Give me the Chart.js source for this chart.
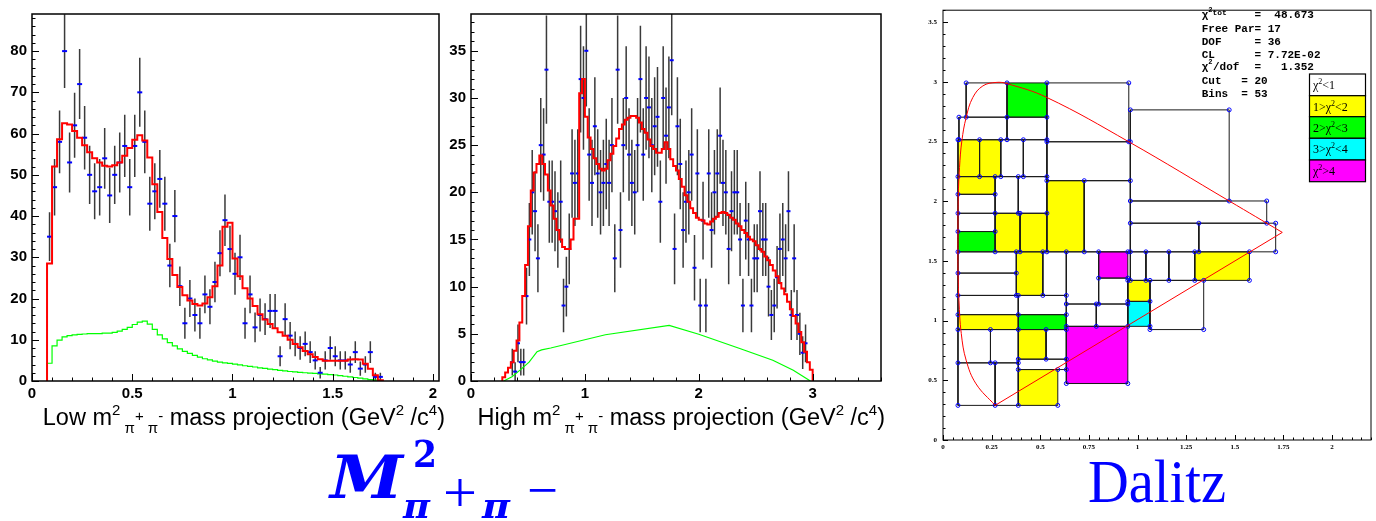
<!DOCTYPE html>
<html>
<head>
<meta charset="utf-8">
<title>pi+ pi- mass projections and Dalitz plot</title>
<script src="https://cdn.jsdelivr.net/npm/chart.js@4.4.1/dist/chart.umd.min.js"></script>
<style>
  html, body { margin: 0; background: #fff; width: 1376px; height: 521px; overflow: hidden; }
  .panel { position: absolute; top: 0; }
  #overlay { position: absolute; left: 0; top: 0; pointer-events: none; }
</style>
</head>
<body>
<div class="panel" style="left:0;width:445px;height:400px"><canvas id="low" width="445" height="400"></canvas></div>
<div class="panel" style="left:440px;width:447px;height:400px"><canvas id="high" width="447" height="400"></canvas></div>
<div class="panel" style="left:900px;width:476px;height:460px"><canvas id="dalitz" width="476" height="460"></canvas></div>

<svg id="overlay" width="1376" height="521" xmlns="http://www.w3.org/2000/svg">
  <g font-family="Liberation Sans, Arial, sans-serif" font-size="23.5" fill="#000">
    <text x="445" y="425" text-anchor="end">Low m<tspan font-size="15" dy="-10">2</tspan><tspan font-size="15" dy="18"> π</tspan><tspan font-size="15" dy="-12">+</tspan><tspan font-size="15" dy="12"> π</tspan><tspan font-size="15" dy="-12">-</tspan><tspan dy="4"> mass projection (GeV</tspan><tspan font-size="15" dy="-10">2</tspan><tspan dy="10"> /c</tspan><tspan font-size="15" dy="-10">4</tspan><tspan dy="10">)</tspan></text>
    <text x="885" y="425" text-anchor="end">High m<tspan font-size="15" dy="-10">2</tspan><tspan font-size="15" dy="18"> π</tspan><tspan font-size="15" dy="-12">+</tspan><tspan font-size="15" dy="12"> π</tspan><tspan font-size="15" dy="-12">-</tspan><tspan dy="4"> mass projection (GeV</tspan><tspan font-size="15" dy="-10">2</tspan><tspan dy="10"> /c</tspan><tspan font-size="15" dy="-10">4</tspan><tspan dy="10">)</tspan></text>
  </g>

  <!-- big blue captions -->
  <g fill="#0000ff">
    <text x="330" y="498" font-family="DejaVu Serif, serif" font-weight="bold" font-style="italic" font-size="59" textLength="73" lengthAdjust="spacingAndGlyphs">M</text>
    <text x="413" y="467" font-family="DejaVu Serif, serif" font-weight="bold" font-size="37" textLength="24" lengthAdjust="spacingAndGlyphs">2</text>
    <text x="403" y="518" font-family="DejaVu Serif, serif" font-weight="bold" font-style="italic" font-size="36" textLength="27" lengthAdjust="spacingAndGlyphs">π</text>
    <text x="443" y="512" font-family="Liberation Serif, serif" font-size="58" textLength="34" lengthAdjust="spacingAndGlyphs">+</text>
    <text x="482" y="518" font-family="DejaVu Serif, serif" font-weight="bold" font-style="italic" font-size="36" textLength="28" lengthAdjust="spacingAndGlyphs">π</text>
    <text x="527" y="509" font-family="Liberation Serif, serif" font-size="56" textLength="31" lengthAdjust="spacingAndGlyphs">−</text>
    <text x="1088" y="502" font-family="Liberation Serif, serif" font-size="62" textLength="138" lengthAdjust="spacingAndGlyphs">Dalitz</text>
  </g>

  <!-- fit statistics -->
  <g font-family="Liberation Mono, Courier New, monospace" font-weight="bold" font-size="11" fill="#000" style="white-space:pre">
    <text x="1201.7" y="18.3">χ<tspan font-size="7" dy="-6">2</tspan><tspan font-size="8" dy="3">tot</tspan></text>
    <text x="1254.5" y="18.3">=</text><text x="1274.3" y="18.3">48.673</text>
    <text x="1201.7" y="31.6">Free Par=</text><text x="1267.7" y="31.6">17</text>
    <text x="1201.7" y="44.6">DOF</text><text x="1254.5" y="44.6">=</text><text x="1267.7" y="44.6">36</text>
    <text x="1201.7" y="57.6">CL</text><text x="1254.5" y="57.6">=</text><text x="1267.7" y="57.6">7.72E-02</text>
    <text x="1201.7" y="70.3">χ<tspan font-size="7" dy="-6">2</tspan><tspan x="1213" dy="6">/dof</tspan></text>
    <text x="1254.5" y="70.3">=</text><text x="1280.9" y="70.3">1.352</text>
    <text x="1201.7" y="83.6">Cut</text><text x="1241.3" y="83.6">=</text><text x="1254.5" y="83.6">20</text>
    <text x="1201.7" y="96.6">Bins</text><text x="1241.3" y="96.6">=</text><text x="1254.5" y="96.6">53</text>
  </g>

  <!-- chi2 colour key -->
  <g stroke="#000" stroke-width="1.2">
    <rect x="1309.5" y="74" width="56" height="21.7" fill="#ffffff"/>
    <rect x="1309.5" y="95.7" width="56" height="21" fill="#ffff00"/>
    <rect x="1309.5" y="116.7" width="56" height="21.6" fill="#00ff00"/>
    <rect x="1309.5" y="138.3" width="56" height="21.7" fill="#00ffff"/>
    <rect x="1309.5" y="160" width="56" height="21.7" fill="#ff00ff"/>
  </g>
  <g font-family="Liberation Serif, Times New Roman, serif" font-size="12" fill="#000">
    <text x="1313" y="89">χ<tspan font-size="8" dy="-5">2</tspan><tspan dy="5">&lt;1</tspan></text>
    <text x="1313" y="110.5">1&gt;χ<tspan font-size="8" dy="-5">2</tspan><tspan dy="5">&lt;2</tspan></text>
    <text x="1313" y="131.8">2&gt;χ<tspan font-size="8" dy="-5">2</tspan><tspan dy="5">&lt;3</tspan></text>
    <text x="1313" y="153.4">3&gt;χ<tspan font-size="8" dy="-5">2</tspan><tspan dy="5">&lt;4</tspan></text>
    <text x="1313" y="175">χ<tspan font-size="8" dy="-5">2</tspan><tspan dy="5">&gt;4</tspan></text>
  </g>
</svg>

<script>
"use strict";

// ── Data ───────────────────────────────────────────────────
const BIN = 0.025; // GeV^2/c^4 per bin in both projections

// Low m² projection, bins start at index 3 (0.075)
const lowStart = 3;
const lowCounts = [35, 47, 58, 80, 53, 62, 72, 59, 50, 46,
    47, 54, 45, 50, 53, 57, 47, 57, 70, 58,
    43, 46, 49, 43, 28, 40, 23, 14, 20, 16,
    14, 21, 18, 24, 31, 39, 32, 26, 30, 14,
    21, 13, 16, 15, 17, 17, 6, 15, 11, 9,
    8, 9, 7, 5, 2, 5, 8, 6, 5, 5,
    4, 7, 3, 4, 7, 1, 1];
const lowFit = [28.5, 52, 58.6, 62.5, 62.2, 60.6, 59, 57.2, 55.5, 54,
    53, 52.2, 52, 52.3, 53, 54.6, 56.5, 58.5, 59.6, 58.3,
    54.2, 47.7, 41, 34.7, 29.6, 25.7, 22.8, 20.8, 19.5, 18.7,
    18.3, 18.8, 20.3, 23, 28, 37.4, 38.4, 29.7, 25.4, 22.5,
    20, 18.2, 16.2, 14.9, 13.8, 12.8, 11.8, 11, 10, 9,
    8.2, 7.3, 6.5, 5.8, 5.3, 4.9, 4.9, 4.9, 4.9, 4.9,
    5.2, 5.3, 5.2, 4.2, 3, 1.4, 0.2];
const lowBg = [4.3, 8.5, 9.9, 10.7, 11.0, 11.2, 11.3, 11.4, 11.5, 11.5,
    11.5, 11.6, 11.6, 11.8, 12.1, 12.5, 13.0, 13.7, 14.3, 14.5,
    13.8, 12.5, 11.2, 10.2, 9.3, 8.5, 7.8, 7.2, 6.7, 6.2,
    5.8, 5.4, 5.1, 4.8, 4.6, 4.4, 4.25, 4.1, 3.9, 3.7,
    3.55, 3.4, 3.2, 3.05, 2.9, 2.75, 2.6, 2.45, 2.3, 2.2,
    2.1, 2.0, 1.9, 1.85, 1.75, 1.65, 1.55, 1.45, 1.3, 1.15,
    1.0, 0.85, 0.7, 0.5, 0.35, 0.2, 0.05];

// High m² projection
const highDataStart = 14;
const highCounts = [2, 1, 4, 2, 2, 9, 15, 20, 18, 13,
    25, 24, 33, 19, 19, 18, 16, 19, 8, 10,
    14, 22, 21, 22, 32, 30, 35, 24, 21, 27,
    22, 20, 21, 23, 21, 25, 13, 33, 16, 25,
    30, 24, 21, 20, 25, 32, 24, 30, 29, 25,
    27, 28, 19, 30, 26, 29, 34, 14, 27, 23,
    16, 19, 20, 24, 12, 22, 8, 17, 8, 22,
    16, 20, 22, 26, 21, 20, 14, 18, 20, 20,
    15, 8, 17, 15, 8, 13, 13, 18, 15, 15,
    10, 7, 8, 11, 14, 15, 13, 18, 7, 13,
    7, 5, 3, 4];
const highFitStart = 11;
const highFit = [0.4, 0.9, 1.4, 2.0, 3.2, 4.3, 6.2, 9.0, 12.3, 16.4,
    20.2, 22.1, 23.0, 23.9, 23.0, 21.9, 20.2, 18.6, 17.2, 16.0,
    15.0, 14.2, 14.0, 14.0, 15.0, 17.2, 17.2, 30.5, 32.0, 28.0,
    25.8, 24.6, 23.6, 23.0, 22.5, 22.3, 22.5, 23.4, 24.1, 24.9,
    25.7, 26.7, 27.2, 27.7, 27.9, 28.1, 28.1, 27.9, 27.4, 26.7,
    26.3, 25.6, 24.9, 24.6, 24.2, 24.2, 24.6, 25.3, 24.6, 23.5,
    22.8, 22.3, 21.4, 20.6, 19.7, 19.0, 18.3, 17.8, 17.3, 17.1,
    17.0, 16.7, 16.6, 16.9, 17.2, 17.4, 17.8, 17.9, 17.8, 17.6,
    17.3, 17.1, 16.7, 16.4, 16.0, 15.7, 15.3, 15.0, 14.8, 14.4,
    14.0, 13.7, 13.2, 12.8, 12.3, 11.7, 11.1, 10.4, 9.8, 9.2,
    8.4, 7.6, 6.9, 6.1, 5.2, 4.1, 3.1, 2.0, 1.2];
const highBgX = [0.287, 0.36, 0.43, 0.51, 0.58, 0.62, 0.70, 1.18, 1.74, 2.00, 2.36, 2.65, 2.83, 2.98];
const highBgY = [0, 0.45, 1.15, 2.0, 3.1, 3.3, 3.5, 4.9, 5.9, 4.95, 3.45, 2.2, 1.15, 0];

// Dalitz adaptive bins: [x1, x2, y1, y2, chi2 class]
const dalitzBins = [
    [0.119, 0.329, 2.704, 2.991, 0], [0.329, 0.534, 2.704, 2.991, 2],
    [0.534, 0.955, 2.498, 2.991, 0], [0.963, 1.471, 2.002, 2.765, 0],
    [0.082, 0.329, 2.515, 2.704, 0], [0.329, 0.534, 2.515, 2.704, 0],
    [0.077, 0.188, 2.206, 2.515, 1], [0.188, 0.297, 2.206, 2.515, 1],
    [0.297, 0.413, 2.206, 2.515, 0], [0.413, 0.534, 2.206, 2.515, 0],
    [0.077, 0.268, 2.058, 2.206, 1], [0.077, 0.268, 1.899, 2.058, 0],
    [0.077, 0.268, 1.746, 1.899, 0], [0.077, 0.268, 1.576, 1.746, 2],
    [0.268, 0.387, 1.899, 2.206, 0], [0.387, 0.534, 1.899, 2.206, 0],
    [0.268, 0.396, 1.576, 1.899, 1], [0.396, 0.534, 1.576, 1.899, 1],
    [0.534, 0.726, 1.576, 2.172, 1], [0.534, 0.963, 2.172, 2.498, 0],
    [0.726, 0.963, 1.576, 2.172, 0], [0.963, 1.664, 1.816, 2.002, 0],
    [0.963, 1.315, 1.576, 1.816, 0], [1.315, 1.710, 1.576, 1.816, 0],
    [0.077, 0.377, 1.398, 1.576, 0], [0.077, 0.377, 1.211, 1.398, 0],
    [0.377, 0.513, 1.211, 1.576, 1], [0.513, 0.634, 1.211, 1.576, 0],
    [0.077, 0.387, 1.050, 1.211, 0], [0.387, 0.634, 1.050, 1.211, 0],
    [0.634, 0.800, 1.139, 1.576, 0], [0.800, 0.950, 1.356, 1.576, 4],
    [0.800, 0.950, 1.139, 1.356, 0], [0.634, 0.788, 0.952, 1.139, 0],
    [0.788, 0.950, 0.952, 1.139, 0], [0.950, 1.064, 1.161, 1.337, 1],
    [0.950, 1.064, 0.952, 1.161, 3], [0.963, 1.043, 1.337, 1.576, 0],
    [1.043, 1.161, 1.337, 1.576, 0], [1.161, 1.294, 1.337, 1.576, 0],
    [1.294, 1.575, 1.337, 1.576, 1], [1.064, 1.340, 0.925, 1.337, 0],
    [0.077, 0.387, 0.925, 1.050, 1], [0.387, 0.634, 0.925, 1.050, 2],
    [0.077, 0.244, 0.646, 0.925, 0], [0.244, 0.387, 0.646, 0.925, 0],
    [0.387, 0.530, 0.677, 0.925, 1], [0.530, 0.634, 0.677, 0.925, 0],
    [0.387, 0.634, 0.590, 0.677, 0], [0.077, 0.268, 0.290, 0.646, 0],
    [0.268, 0.387, 0.290, 0.646, 0], [0.387, 0.590, 0.290, 0.590, 1],
    [0.634, 0.950, 0.473, 0.952, 4],
];

// Kinematic boundary: curved side, then the straight edge back to the start
const boundaryArcX = [0.268, 0.17, 0.119, 0.094, 0.082, 0.077, 0.077, 0.078, 0.085, 0.097, 0.119, 0.153, 0.205, 0.273, 0.329, 0.534, 0.955, 1.471, 1.744];
const boundaryArcY = [0.29, 0.47, 0.668, 0.891, 1.17, 1.448, 1.727, 2.005, 2.283, 2.506, 2.701, 2.868, 2.966, 2.995, 2.985, 2.869, 2.498, 2.002, 1.739];
const boundaryEdgeX = [1.744, 0.268];
const boundaryEdgeY = [1.739, 0.29];

// ── Helpers ────────────────────────────────────────────────
const histLine = (start, vals) => [
    { x: start * BIN, y: 0 },
    ...vals.map((v, i) => ({ x: (start + i) * BIN, y: v })),
    { x: (start + vals.length) * BIN, y: 0 },
];
const binPoints = (start, vals) => vals.map((v, i) => ({ x: (start + i + 0.5) * BIN, y: v }));
const xy = (xs, ys) => xs.map((x, i) => ({ x, y: ys[i] }));
const plainNum = (v) => String(Math.round(v * 1000) / 1000);

Chart.defaults.font.family = "'Liberation Sans', Arial, sans-serif";
Chart.defaults.color = "#000";

// ROOT-like frame with inward ticks
const rootFrame = {
    id: "rootFrame",
    afterDatasetsDraw(chart, args, o) {
        const { ctx, chartArea: a, scales: { x, y } } = chart;
        ctx.save();
        ctx.strokeStyle = "#000";
        ctx.lineWidth = 1;
        ctx.beginPath();
        const walk = (scale, minor, major, draw) => {
            const n = Math.floor(scale.max / minor + 1e-6);
            for (let i = 0; i <= n; i++) {
                const v = i * minor;
                const isMajor = Math.abs(v / major - Math.round(v / major)) < 1e-6;
                draw(Math.round(scale.getPixelForValue(v)) + 0.5, isMajor ? o.majorLen : o.minorLen);
            }
        };
        walk(y, o.yMinor, o.yMajor, (p, len) => { ctx.moveTo(a.left, p); ctx.lineTo(a.left + len, p); });
        walk(x, o.xMinor, o.xMajor, (p, len) => { ctx.moveTo(p, a.bottom); ctx.lineTo(p, a.bottom - len); });
        ctx.stroke();
        ctx.lineWidth = o.frameWidth;
        ctx.strokeRect(a.left, a.top, a.right - a.left, a.bottom - a.top);
        ctx.restore();
    },
};

// Poisson error bars for datasets flagged errorBars
const errorBars = {
    id: "errorBars",
    beforeDatasetsDraw(chart) {
        const { ctx, chartArea: a, scales: { x, y } } = chart;
        ctx.save();
        ctx.beginPath();
        ctx.rect(a.left, a.top, a.right - a.left, a.bottom - a.top);
        ctx.clip();
        ctx.strokeStyle = "#3a3a3a";
        ctx.lineWidth = 1.5;
        ctx.beginPath();
        chart.data.datasets.forEach((ds) => {
            if (!ds.errorBars) return;
            ds.data.forEach((p) => {
                const e = Math.sqrt(p.y);
                const px = x.getPixelForValue(p.x);
                ctx.moveTo(px, y.getPixelForValue(p.y - e));
                ctx.lineTo(px, y.getPixelForValue(p.y + e));
            });
        });
        ctx.stroke();
        ctx.restore();
    },
};

const histTicks = { family: "'Liberation Sans', Arial, sans-serif", size: 15, weight: "bold" };

function projection(id, o) {
    return new Chart(document.getElementById(id), {
        type: "line",
        data: {
            datasets: [
                { data: o.fit, stepped: true, borderColor: "#ff0000", borderWidth: 2, pointRadius: 0, fill: false },
                { data: o.points, showLine: false, errorBars: true, pointStyle: "line",
                  pointRadius: o.markSize, pointBorderWidth: 2, pointBorderColor: "#0000ff" },
                { data: o.bg, stepped: o.bgStepped, borderColor: "#00ff00", borderWidth: 1.2, pointRadius: 0, fill: false },
            ],
        },
        options: {
            responsive: false, animation: false, devicePixelRatio: 1, events: [],
            layout: { padding: { top: 10, right: o.padRight, left: 0, bottom: 0 } },
            plugins: {
                legend: { display: false }, tooltip: { enabled: false },
                rootFrame: { xMajor: o.xStep, xMinor: o.xStep / 5, yMajor: o.yStep, yMinor: o.yMinor,
                             majorLen: 7, minorLen: 3.5, frameWidth: 1.5 },
            },
            scales: {
                x: {
                    type: "linear", min: 0, max: o.xMax,
                    grid: { display: false, drawTicks: false }, border: { display: false },
                    ticks: { stepSize: o.xStep, includeBounds: false, padding: 4, maxRotation: 0, autoSkip: false,
                             font: histTicks, callback: plainNum },
                    afterFit: (s) => { s.height = 19; },
                },
                y: {
                    min: 0, max: o.yMax,
                    grid: { display: false, drawTicks: false }, border: { display: false },
                    ticks: { stepSize: o.yStep, includeBounds: false, padding: 5, font: histTicks, callback: plainNum },
                    afterFit: (s) => { s.width = o.yWidth; },
                },
            },
        },
        plugins: [errorBars, rootFrame],
    });
}

// ── Low m² projection ──────────────────────────────────────
projection("low", {
    fit: histLine(lowStart, lowFit),
    points: binPoints(lowStart, lowCounts),
    bg: histLine(lowStart, lowBg), bgStepped: true,
    xMax: 2.03, xStep: 0.5, yMax: 89, yStep: 10, yMinor: 2,
    yWidth: 32, padRight: 2, markSize: 2.5,
});

// ── High m² projection ─────────────────────────────────────
projection("high", {
    fit: histLine(highFitStart, highFit),
    points: binPoints(highDataStart, highCounts),
    bg: xy(highBgX, highBgY), bgStepped: false,
    xMax: 3.6, xStep: 1, yMax: 38.9, yStep: 5, yMinor: 1,
    yWidth: 31, padRight: 5, markSize: 2,
});

// ── Dalitz plot ────────────────────────────────────────────
const chi2Colors = ["rgba(0,0,0,0)", "#ffff00", "#00ff00", "#00ffff", "#ff00ff"];

const binSets = dalitzBins.map(([x1, x2, y1, y2, c]) => ({
    data: xy([x1, x2, x2, x1, x1], [y1, y1, y2, y2, y1]),
    borderColor: "#1a1a1a", borderWidth: 1, pointRadius: 0,
    backgroundColor: chi2Colors[c], fill: c ? "shape" : false,
}));

const cornerKeys = new Set();
const corners = [];
dalitzBins.forEach(([x1, x2, y1, y2]) => {
    [[x1, y1], [x2, y1], [x2, y2], [x1, y2]].forEach(([cx, cy]) => {
        const k = cx + "," + cy;
        if (!cornerKeys.has(k)) { cornerKeys.add(k); corners.push({ x: cx, y: cy }); }
    });
});

const dalitzTicks = { family: "'Liberation Serif', 'Times New Roman', serif", size: 7, weight: "bold" };

new Chart(document.getElementById("dalitz"), {
    type: "line",
    data: {
        datasets: [
            { data: xy(boundaryArcX, boundaryArcY), borderColor: "#ff0000", borderWidth: 1, tension: 0.4, pointRadius: 0, fill: false },
            { data: xy(boundaryEdgeX, boundaryEdgeY), borderColor: "#ff0000", borderWidth: 1, pointRadius: 0, fill: false },
            { data: corners, showLine: false, pointStyle: "circle", pointRadius: 2,
              pointBorderWidth: 1, pointBorderColor: "#0000ff", pointBackgroundColor: "rgba(0,0,0,0)" },
            ...binSets,
        ],
    },
    options: {
        responsive: false, animation: false, devicePixelRatio: 1, events: [],
        layout: { padding: { top: 9, right: 2, left: 0, bottom: 0 } },
        plugins: {
            legend: { display: false }, tooltip: { enabled: false },
            filler: { drawTime: "beforeDatasetsDraw" },
            rootFrame: { xMajor: 0.25, xMinor: 0.05, yMajor: 0.5, yMinor: 0.1, majorLen: 5, minorLen: 2.5, frameWidth: 1 },
        },
        scales: {
            x: {
                type: "linear", min: 0, max: 2.2,
                grid: { display: false, drawTicks: false }, border: { display: false },
                ticks: { stepSize: 0.25, includeBounds: false, padding: 3, maxRotation: 0, autoSkip: false,
                         font: dalitzTicks, callback: plainNum },
                afterFit: (s) => { s.height = 20; },
            },
            y: {
                min: 0, max: 3.6,
                grid: { display: false, drawTicks: false }, border: { display: false },
                ticks: { stepSize: 0.5, includeBounds: false, padding: 6, font: dalitzTicks, callback: plainNum },
                afterFit: (s) => { s.width = 43; },
            },
        },
    },
    plugins: [rootFrame],
});
</script>
</body>
</html>
